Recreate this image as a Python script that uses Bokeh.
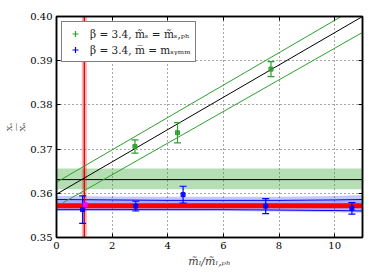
import math
from bokeh.plotting import figure
from bokeh.models import (Range1d, LinearAxis, FixedTicker, Legend, LegendItem,
                          ColumnDataSource, CustomJSTickFormatter)
from bokeh.embed import file_html
from bokeh.resources import INLINE

# ---------------- data ----------------
x_ticks = [0, 2, 4, 6, 8, 10]
y_ticks = [0.35, 0.36, 0.37, 0.38, 0.39, 0.40]

# beta=3.4, m_s = m_s,ph  (green)
green_x = [2.82, 4.35, 7.71]
green_y = [0.3706, 0.3737, 0.3881]
green_yerr = [0.0015, 0.0023, 0.0017]
green_xerr = [0.05, 0.05, 0.05]

# beta=3.4, mbar = m_symm (blue)
blue_x = [0.94, 2.85, 4.55, 7.52, 10.62]
blue_y = [0.3563, 0.3571, 0.3597, 0.3571, 0.3566]
blue_yerr = [0.0031, 0.0011, 0.0019, 0.0017, 0.0013]
blue_xerr = [0.04, 0.04, 0.04, 0.04, 0.04]

# physical point
phys_x = [1.03]
phys_y = [0.3574]

# green linear fit and its error lines
gfit_x = [0.0, 11.0]
gfit_mid = [0.3598, 0.4000]
gfit_up_x = [0.0, 11.0]
gfit_up = [0.3625, 0.4028]
gfit_lo_x = [0.24, 11.0]
gfit_lo = [0.3579, 0.3964]

# green constant result band
gconst_x = [0.0, 11.0]
gconst_mid = [0.3631, 0.3631]
gconst_lo = [0.3609, 0.3609]
gconst_hi = [0.3656, 0.3656]

# blue fit band and lines
bfit_x = [0.0, 2.0, 4.0, 6.0, 8.0, 10.0, 11.0]
bband_hi = [0.3594, 0.3593, 0.3592, 0.3592, 0.3592, 0.3594, 0.3596]
bband_lo = [0.3560, 0.3560, 0.3560, 0.3560, 0.3559, 0.3557, 0.3556]
bline_hi = [0.3586, 0.3585, 0.3584, 0.3584, 0.3584, 0.3585, 0.3586]
bline_lo = [0.3563, 0.3563, 0.3563, 0.3563, 0.3562, 0.3561, 0.3560]

# red final result (horizontal) and physical mass line (vertical)
red_x = [0.0, 11.0]
red_y = [0.3572, 0.3572]
phys_line_x = [1.0, 1.0]
phys_line_y = [0.35, 0.40]
phys_band_y = [0.35, 0.40]
phys_band_lo = [0.91, 0.91]
phys_band_hi = [1.09, 1.09]

GREEN = "#2ca02c"
BLUE = "#0000ff"
SERIF = "DejaVu Serif"

# ---------------- figure ----------------
p = figure(frame_width=306, frame_height=221,
           x_range=Range1d(0, 11), y_range=Range1d(0.35, 0.40),
           output_backend="svg", toolbar_location=None,
           min_border_left=56, min_border_right=6, min_border_top=16, min_border_bottom=38)
p.background_fill_color = "white"
p.border_fill_color = "white"
p.outline_line_color = "black"
p.outline_line_width = 1.5

for ax in (p.xaxis[0], p.yaxis[0]):
    ax.major_tick_in = 4
    ax.major_tick_out = 0
    ax.minor_tick_in = 0
    ax.minor_tick_out = 0
    ax.axis_line_width = 1.5
    ax.major_label_text_font = SERIF
    ax.major_label_text_font_size = "10px"
    ax.major_label_text_color = "black"
    ax.major_label_standoff = 4

p.xaxis.ticker = FixedTicker(ticks=x_ticks)
p.yaxis.ticker = FixedTicker(ticks=y_ticks)
p.yaxis.formatter = CustomJSTickFormatter(code="return tick.toFixed(2);")

p.xaxis.axis_label = "m\u0303\u2097/m\u0303\u2097,\u209a\u2095"
p.xaxis.axis_label_text_font = SERIF
p.xaxis.axis_label_text_font_size = "11px"
p.xaxis.axis_label_text_font_style = "italic"
p.xaxis.axis_label_standoff = 3

# y label: stacked fraction X_s / X_N
p.yaxis.axis_label = "X\u209b\n\u2014\nX\u2099"
p.yaxis.axis_label_text_font = SERIF
p.yaxis.axis_label_text_font_size = "8px"
p.yaxis.axis_label_text_font_style = "normal"
p.yaxis.axis_label_text_line_height = 0.75
p.yaxis.axis_label_standoff = 0

# top and right axes (ticks only, blank labels)
blank = CustomJSTickFormatter(code="return '';")
top = LinearAxis(ticker=FixedTicker(ticks=x_ticks), major_tick_in=4, major_tick_out=0,
                 minor_tick_in=0, minor_tick_out=0, formatter=blank,
                 axis_line_width=1.5, major_label_standoff=0)
right = LinearAxis(ticker=FixedTicker(ticks=y_ticks), major_tick_in=4, major_tick_out=0,
                   minor_tick_in=0, minor_tick_out=0, formatter=blank,
                   axis_line_width=1.5, major_label_standoff=0)
p.add_layout(top, "above")
p.add_layout(right, "right")

p.xgrid.ticker = FixedTicker(ticks=x_ticks[1:])
p.ygrid.ticker = FixedTicker(ticks=y_ticks[1:-1])
for g in (p.xgrid[0], p.ygrid[0]):
    g.grid_line_color = "black"
    g.grid_line_alpha = 0.7
    g.grid_line_dash = "1 3"
    g.grid_line_width = 1

# bands
p.varea(x=gconst_x, y1=gconst_lo, y2=gconst_hi, fill_color=GREEN, fill_alpha=0.35)
p.line(gconst_x, gconst_mid, line_color="black", line_width=1)

p.varea(x=bfit_x, y1=bband_lo, y2=bband_hi, fill_color=BLUE, fill_alpha=0.22)
p.varea(x=bfit_x, y1=bline_lo, y2=bline_hi, fill_color=BLUE, fill_alpha=0.12)
p.line(bfit_x, bline_hi, line_color=BLUE, line_width=1)
p.line(bfit_x, bline_lo, line_color=BLUE, line_width=1)

p.harea(y=phys_band_y, x1=phys_band_lo, x2=phys_band_hi, fill_color="red", fill_alpha=0.3)
p.line(phys_line_x, phys_line_y, line_color="#cc0000", line_width=1.2)

p.line(red_x, red_y, line_color="red", line_width=5)

# green fit lines
p.line(gfit_x, gfit_mid, line_color="black", line_width=1)
p.line(gfit_up_x, gfit_up, line_color=GREEN, line_width=1)
p.line(gfit_lo_x, gfit_lo, line_color=GREEN, line_width=1)


def errorbars(xs, ys, xe, ye, color):
    src = ColumnDataSource(dict(
        x=xs, y=ys,
        y0=[y - e for y, e in zip(ys, ye)], y1=[y + e for y, e in zip(ys, ye)],
        x0=[x - e for x, e in zip(xs, xe)], x1=[x + e for x, e in zip(xs, xe)]))
    p.segment(x0="x", x1="x", y0="y0", y1="y1", source=src, line_color=color, line_width=1.2)
    p.segment(x0="x0", x1="x1", y0="y", y1="y", source=src, line_color=color, line_width=1.2)
    p.scatter(x="x", y="y0", source=src, marker="dash", size=7, line_color=color, line_width=1.2)
    p.scatter(x="x", y="y1", source=src, marker="dash", size=7, line_color=color, line_width=1.2)
    p.scatter(x="x", y="y", source=src, marker="square", size=4, fill_color=color,
              line_color=color, fill_alpha=0.8)


errorbars(green_x, green_y, green_xerr, green_yerr, GREEN)
errorbars(blue_x, blue_y, blue_xerr, blue_yerr, BLUE)
p.scatter(phys_x, phys_y, marker="square", size=4, fill_color="magenta", line_color="magenta")

# legend (icon-only renderers)
nan = float("nan")
g_icon = p.scatter([nan], [nan], marker="cross", size=13, line_color=GREEN, line_width=1.2)
b_icon = p.scatter([nan], [nan], marker="cross", size=13, line_color=BLUE, line_width=1.2)
legend = Legend(items=[
    LegendItem(label="\u03b2 = 3.4, m\u0303\u209b = m\u0303\u209b,\u209a\u2095", renderers=[g_icon]),
    LegendItem(label="\u03b2 = 3.4, m\u0305 = m\u209b\u1d67\u2098\u2098", renderers=[b_icon]),
], location="top_left")
legend.label_text_font = SERIF
legend.label_text_font_size = "10.5px"
legend.label_text_color = "#222222"
legend.border_line_color = "black"
legend.border_line_width = 1.2
legend.background_fill_alpha = 1
legend.margin = 5
legend.padding = 4
legend.spacing = 1
legend.glyph_width = 18
legend.glyph_height = 15
legend.label_standoff = 6
legend.label_height = 15
p.add_layout(legend)

open("out.html", "w").write(file_html(p, INLINE))
